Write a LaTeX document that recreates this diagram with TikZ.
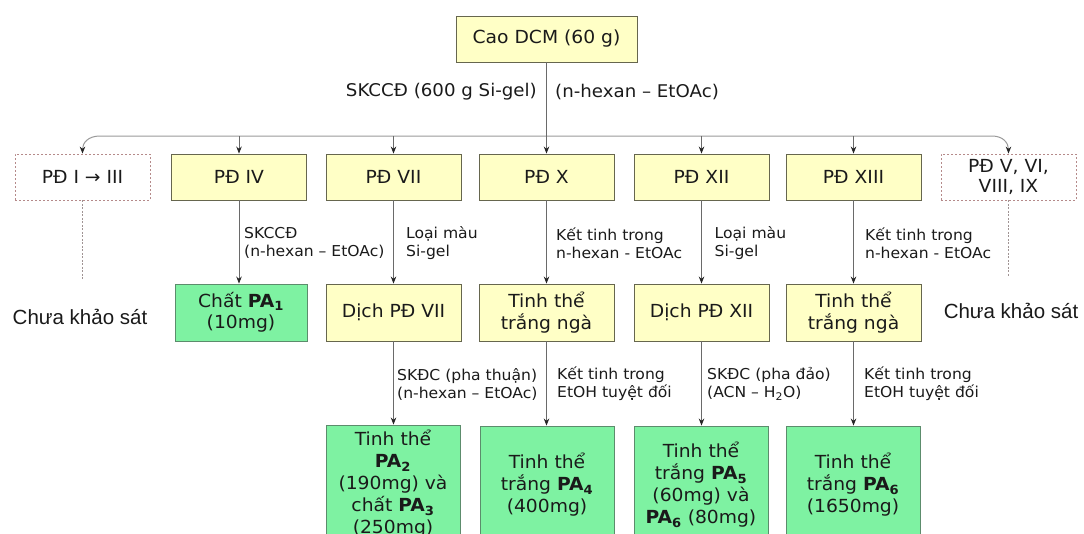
\documentclass[tikz,border=0pt]{standalone}
\usepackage{fontspec}
\setmainfont[FakeStretch=1.04]{DejaVu Sans}
\newfontfamily\arialf{Liberation Sans}
\usetikzlibrary{arrows.meta,calc}

\definecolor{yfill}{HTML}{FFFFC6}
\definecolor{ydraw}{HTML}{66664E}
\definecolor{gfill}{HTML}{7EF2A2}
\definecolor{gdraw}{HTML}{5C8C6C}
\definecolor{dashc}{HTML}{B58A8A}
\definecolor{dlinec}{HTML}{A09494}
\definecolor{linec}{HTML}{6A6A6A}
\definecolor{busc}{HTML}{9A9A9A}
\definecolor{txt}{HTML}{1A1A1A}

\newcommand{\pa}[1]{\textbf{PA\textsubscript{#1}}}

\begin{document}
\begin{tikzpicture}[x=1pt,y=-1pt,
  every node/.style={text=txt},
  boxbase/.style={inner sep=0pt, align=center, font=\fontsize{18}{22}\selectfont},
  ybox/.style={boxbase, draw=ydraw, fill=yfill, line width=0.9pt},
  gbox/.style={boxbase, draw=gdraw, fill=gfill, line width=0.9pt},
  dbox/.style={boxbase, draw=dashc, dash pattern=on 2pt off 2pt, line width=0.8pt,
               font=\fontsize{18}{20}\selectfont},
  rowone/.style={minimum width=135pt, minimum height=46pt},
  rowtwo/.style={minimum width=135pt, minimum height=57pt},
  rowthree/.style={minimum width=134pt, minimum height=118pt},
  lbl/.style={inner sep=0pt, align=left, anchor=west, font=\fontsize{15}{18}\selectfont},
  tip/.tip={Stealth[length=7pt,width=5.5pt,color=black!85]},
  conn/.style={draw=linec, line width=0.8pt, -tip},
  busline/.style={draw=busc, line width=1pt, tip-tip},
  dline/.style={draw=dlinec, line width=0.9pt, dash pattern=on 2pt off 1.5pt},
  note/.style={inner sep=0pt, font=\arialf\fontsize{20.5}{23}\selectfont}
]
\useasboundingbox (0,0) rectangle (1084,533);
\clip (0,0) rectangle (1084,533);

% source extract
\node[ybox, minimum width=181pt, minimum height=46pt] (cao) at (546.5,39) {Cao DCM (60 g)};
\node[inner sep=0pt, anchor=east, font=\fontsize{17.5}{20}\selectfont] (lsk) at (537,92) {SKCCĐ (600 g Si-gel)};
\node[inner sep=0pt, anchor=west, font=\fontsize{17.5}{20}\selectfont] (lhx) at (555,92) {(n-hexan – EtOAc)};

% first-level fractions
\node[dbox, rowone] (d1) at (82.5,177) {PĐ I → III};
\node[ybox, rowone] (p4) at (239,177) {PĐ IV};
\node[ybox, rowone] (p7) at (393.5,177) {PĐ VII};
\node[ybox, rowone] (p10) at (546.5,177) {PĐ X};
\node[ybox, rowone] (p12) at (701.5,177) {PĐ XII};
\node[ybox, rowone] (p13) at (853.5,177) {PĐ XIII};
\node[dbox, rowone] (d2) at (1008.5,177) {PĐ V, VI,\\VIII, IX};

% second level
\node[gbox, minimum width=132pt, minimum height=57pt, font=\fontsize{18}{21}\selectfont] (pa1) at (241,312.5) {Chất \pa{1}\\(10mg)};
\node[ybox, rowtwo] (dv7) at (393.5,312.5) {Dịch PĐ VII};
\node[ybox, rowtwo] (tt10) at (546.5,312.5) {Tinh thể\\trắng ngà};
\node[ybox, rowtwo] (dv12) at (701.5,312.5) {Dịch PĐ XII};
\node[ybox, rowtwo] (tt13) at (853.5,312.5) {Tinh thể\\trắng ngà};

\node[note] (c1) at (80,317) {Chưa khảo sát};
\node[note] (c2) at (1011,311) {Chưa khảo sát};

% isolated compounds
\node[gbox, rowthree] (r7) at (393,484) {Tinh thể\\\pa{2}\\(190mg) và\\chất \pa{3}\\(250mg)};
\node[gbox, rowthree] (r10) at (547,485) {Tinh thể\\trắng \pa{4}\\(400mg)};
\node[gbox, rowthree] (r12) at (701,485) {Tinh thể\\trắng \pa{5}\\(60mg) và\\\pa{6} (80mg)};
\node[gbox, rowthree] (r13) at (853,485) {Tinh thể\\trắng \pa{6}\\(1650mg)};

% column chromatography bus
\coordinate (bl) at (100,136);
\coordinate (br) at (992,136);
\draw[busline] (d1.north) .. controls (82.5,143) and (88,136) .. (bl) -- (br)
  .. controls (1003,136) and (1008.5,143) .. (d2.north);
\draw[conn] (cao) -- (p10);
\foreach \n in {p4,p7,p12,p13} \draw[conn] (\n |- bl) -- (\n);

% unexamined fractions
\coordinate (e1) at (82.5,280);
\coordinate (e2) at (1008.5,277);
\draw[dline] (d1) -- (e1);
\draw[dline] (d2) -- (e2);

% first processing step
\draw[conn] (p4.south) -- (p4.south |- pa1.north);
\draw[conn] (p7) -- (dv7);
\draw[conn] (p10) -- (tt10);
\draw[conn] (p12) -- (dv12);
\draw[conn] (p13) -- (tt13);
\node[lbl] (l4) at (244,243) {SKCCĐ\\(n-hexan – EtOAc)};
\node[lbl] (l7) at (406,243) {Loại màu\\Si-gel};
\node[lbl] (l10) at (556,243) {Kết tinh trong\\n-hexan - EtOAc};
\node[lbl] (l12) at (714.5,243) {Loại màu\\Si-gel};
\node[lbl] (l13) at (865,243) {Kết tinh trong\\n-hexan - EtOAc};

% second processing step
\draw[conn] (dv7.south) -- (dv7.south |- r7.north);
\draw[conn] (tt10.south) -- (tt10.south |- r10.north);
\draw[conn] (dv12.south) -- (dv12.south |- r12.north);
\draw[conn] (tt13.south) -- (tt13.south |- r13.north);
\node[lbl] (m7) at (397,384) {SKĐC (pha thuận)\\(n-hexan – EtOAc)};
\node[lbl] (m10) at (557,384) {Kết tinh trong\\EtOH tuyệt đối};
\node[lbl] (m12) at (707,384) {SKĐC (pha đảo)\\(ACN – H\textsubscript{2}O)};
\node[lbl] (m13) at (864,384) {Kết tinh trong\\EtOH tuyệt đối};
\end{tikzpicture}
\end{document}
